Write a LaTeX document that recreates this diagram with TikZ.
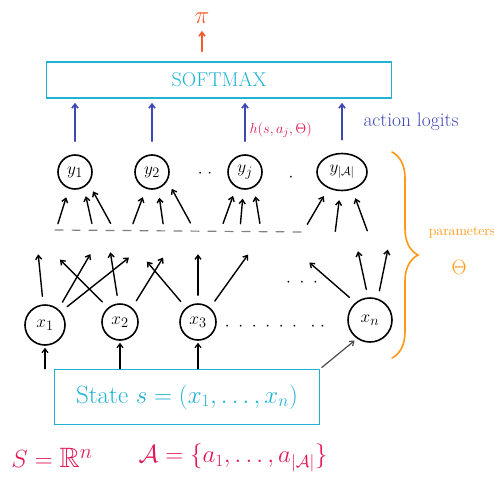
\documentclass[tikz,border=0pt]{standalone}
\usepackage{amsmath,amssymb}
\usetikzlibrary{arrows.meta,decorations.pathreplacing,positioning,calc,shapes.geometric}
\definecolor{boxcyan}{RGB}{30,178,212}
\definecolor{logitblue}{RGB}{62,72,180}
\definecolor{crimson}{RGB}{226,24,84}
\definecolor{paramorange}{RGB}{255,152,20}
\definecolor{pired}{RGB}{242,92,44}

\begin{document}
\begin{tikzpicture}[x=1pt,y=-1pt,line cap=round,
  neuron/.style={draw,circle,line width=1.6pt,minimum size=34pt,inner sep=0pt,font=\fontsize{19}{21}\selectfont},
  layerbox/.style={draw=boxcyan,text=boxcyan,line width=1.6pt,inner sep=0pt},
  wire/.style={-{Straight Barb[length=4pt,width=6pt]},line width=1.4pt},
  logit/.style={-{Straight Barb[length=4pt,width=6pt]},line width=1.6pt,logitblue},
  dotsnode/.style={font=\fontsize{16}{18}\selectfont}]
\useasboundingbox (0,0) rectangle (494,492);

% sortie
\node[text=pired,font=\fontsize{26}{28}\selectfont] (pi) at (202,18) {$\pi$};
\node[layerbox,minimum width=345pt,minimum height=36pt,font=\fontsize{20}{22}\selectfont] (softmax) at (219,80) {SOFTMAX};
\draw[-{Straight Barb[length=4pt,width=6pt]},line width=1.6pt,pired,shorten <=10pt,shorten >=4pt] (pi.south |- softmax.north) -- (pi.south);

% neurones de sortie
\node[neuron] (y1) at (75,172) {$y_1$};
\node[neuron] (y2) at (152,172) {$y_2$};
\node[neuron] (yj) at (245,172) {$y_j$};
\node[neuron,ellipse,minimum width=50pt,minimum height=37pt,font=\fontsize{17}{19}\selectfont] (yA) at (342,172) {$y_{|\mathcal{A}|}$};
\node[dotsnode] (ydots) at (205,174) {$\cdot\ \cdot$};
\node[dotsnode] (ydot) at (291,178) {$\cdot$};

% logits
\foreach \n in {y1,y2,yj,yA}
  \draw[logit,shorten <=13pt,shorten >=4pt] (\n.north) -- (\n.north |- softmax.south);
\node[anchor=west,text=crimson,font=\fontsize{15}{17}\selectfont] (hlabel) at (246,130) {$h(s,a_j,\Theta)$};
\node[anchor=west,text=logitblue,font=\fontsize{19.5}{22}\selectfont] (logits) at (360,122) {action logits};

% poids vers les sorties
\foreach \n/\a/\dx/\dy in {y1/250/-11/35, y1/300/8/36, y1/320/22/40,
    y2/250/-13/35, y2/290/5/35, y2/330/23/42,
    yj/240/-13/36, yj/265/-3/34, yj/300/6/36,
    yA/230/-21/36, yA/265/-5/40, yA/300/15/41}
  \draw[wire,shorten >=9pt] (\n.\a) ++(\dx,\dy) -- (\n.\a);

% couches cachees
\draw[gray,line width=1.2pt,dash pattern=on 8pt off 9pt] (55,230) -- (305,232);

% neurones d'entree
\node[neuron,minimum size=40pt] (x1) at (45,325) {$x_1$};
\node[neuron,minimum size=36pt] (x2) at (120,322) {$x_2$};
\node[neuron,minimum size=36pt] (x3) at (198,322) {$x_3$};
\node[neuron,minimum size=44pt] (xn) at (370,320) {$x_n$};
\node[dotsnode] (xdots) at (275,327) {$\cdot\ \cdot\ \cdot\ \cdot\ \cdot\ \cdot\ \ \cdot\ \cdot$};
\node[dotsnode] (mdots) at (302,283) {$\cdot\ \cdot\ \cdot$};

% poids depuis les entrees
\foreach \n/\a/\dx/\dy in {x1/95/-5/-50, x1/50/32/-55, x1/40/68/-54,
    x2/130/-48/-48, x2/95/-8/-51, x2/50/31/-50,
    x3/130/-39/-46, x3/90/0/-49, x3/50/38/-53,
    xn/130/-46/-40, xn/95/-10/-46, xn/70/10/-49}
  \draw[wire,shorten <=8pt] (\n.\a) -- ++(\dx,\dy);

% etat
\node[layerbox,minimum width=265pt,minimum height=55pt,font=\fontsize{25}{28}\selectfont] (state) at (187,397) {State $s=(x_1,\dots,x_n)$};
\foreach \n in {x1,x2,x3}
  \draw[wire,line width=1.2pt,shorten >=2pt] (\n.south |- state.north) -- (\n.south);
\draw[wire,line width=1.2pt,gray!60!black,shorten <=2pt,shorten >=3pt] (state.north east) -- (xn.235);

% parametres
\draw[paramorange,line width=1.6pt,decorate,decoration={brace,amplitude=26pt}] (392,152) -- (392,358);
\node[text=paramorange,font=\fontsize{14}{16}\selectfont] (params) at (462,233) {parameters};
\node[text=paramorange,font=\fontsize{22}{24}\selectfont] (theta) at (459,267) {$\Theta$};

% espaces
\node[text=crimson,font=\fontsize{28}{30}\selectfont] (space) at (52,458) {$S=\mathbb{R}^n$};
\node[text=crimson,font=\fontsize{26}{28}\selectfont] (actions) at (233,458) {$\mathcal{A}=\{a_1,\dots,a_{|\mathcal{A}|}\}$};
\end{tikzpicture}
\end{document}
